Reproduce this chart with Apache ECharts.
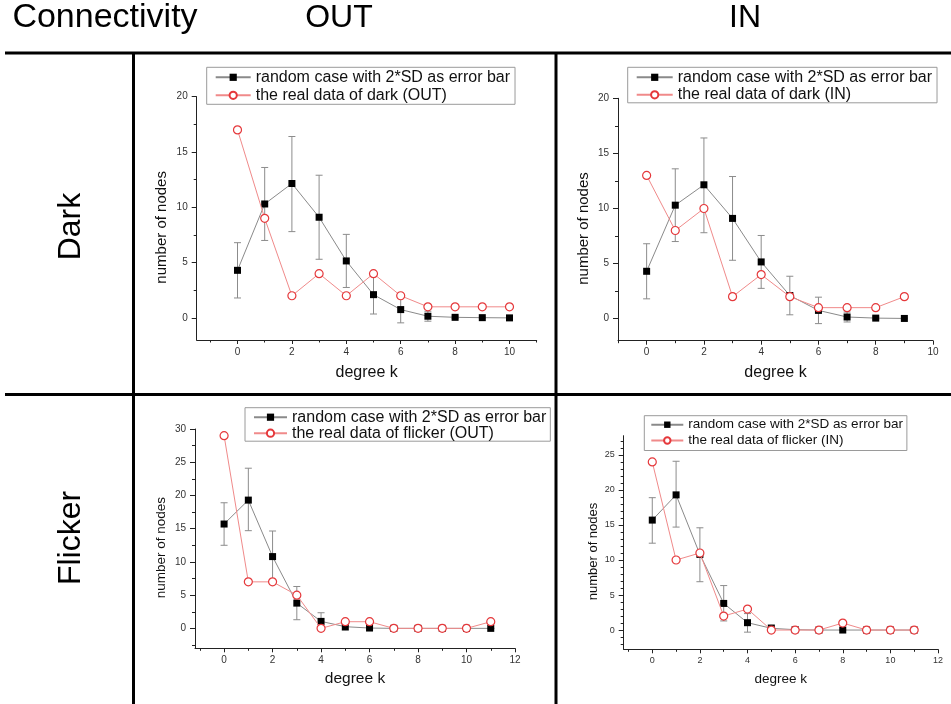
<!DOCTYPE html>
<html>
<head>
<meta charset="utf-8">
<script src="https://cdn.jsdelivr.net/npm/echarts@6/dist/echarts.min.js"></script>
<style>
html,body{margin:0;padding:0;background:#fff;}
#c{width:951px;height:704px;}
</style>
</head>
<body>
<div id="c"></div>
<script>
// ---------------- text ----------------
const cornerLabel = 'Connectivity';
const columnLabels = ['OUT', 'IN'];
const rowLabels = ['Dark', 'Flicker'];
const randomName = 'random case with 2*SD as error bar';
const realDarkOutName = 'the real data of dark (OUT)';
const realDarkInName = 'the real data of dark (IN)';
const realFlickerOutName = 'the real data of flicker (OUT)';
const realFlickerInName = 'the real data of flicker (IN)';
const xAxisName = 'degree k';
const yAxisName = 'number of nodes';

// ---------------- Dark, OUT ----------------
const degreesDarkOut = [0, 1, 2, 3, 4, 5, 6, 7, 8, 9, 10];
const randomDarkOut = [4.3, 10.3, 12.15, 9.1, 5.15, 2.1, 0.75, 0.15, 0.05, 0.02, 0.0];
const randomDarkOutLow = [1.8, 7.0, 7.8, 5.3, 2.75, 0.35, -0.45, -0.3, -0.05, -0.02, 0.0];
const randomDarkOutHigh = [6.8, 13.6, 16.4, 12.9, 7.55, 3.85, 1.95, 0.6, 0.15, 0.06, 0.0];
const realDarkOut = [17, 9, 2, 4, 2, 4, 2, 1, 1, 1, 1];

// ---------------- Dark, IN ----------------
const degreesDarkIn = [0, 1, 2, 3, 4, 5, 6, 7, 8, 9];
const randomDarkIn = [4.3, 10.3, 12.15, 9.1, 5.15, 2.1, 0.75, 0.15, 0.05, 0.02];
const randomDarkInLow = [1.8, 7.0, 7.8, 5.3, 2.75, 0.35, -0.45, -0.3, -0.05, -0.02];
const randomDarkInHigh = [6.8, 13.6, 16.4, 12.9, 7.55, 3.85, 1.95, 0.6, 0.15, 0.06];
const realDarkIn = [13, 8, 10, 2, 4, 2, 1, 1, 1, 2];

// ---------------- Flicker, OUT ----------------
const degreesFlickerOut = [0, 1, 2, 3, 4, 5, 6, 7, 8, 9, 10, 11];
const randomFlickerOut = [15.7, 19.3, 10.8, 3.8, 1.05, 0.25, 0.05, 0, 0, 0, 0, 0];
const randomFlickerOutLow = [12.5, 14.7, 6.95, 1.3, -0.25, -0.3, -0.1, 0, 0, 0, 0, 0];
const randomFlickerOutHigh = [18.9, 24.1, 14.65, 6.3, 2.35, 0.75, 0.2, 0, 0, 0, 0, 0];
const realFlickerOut = [29, 7, 7, 5, 0, 1, 1, 0, 0, 0, 0, 1];

// ---------------- Flicker, IN ----------------
const degreesFlickerIn = [0, 1, 2, 3, 4, 5, 6, 7, 8, 9, 10, 11];
const randomFlickerIn = [15.7, 19.3, 10.8, 3.8, 1.05, 0.25, 0.05, 0, 0, 0, 0, 0];
const randomFlickerInLow = [12.4, 14.7, 6.9, 1.3, -0.3, -0.2, -0.1, 0, 0, 0, 0, 0];
const randomFlickerInHigh = [18.9, 24.1, 14.6, 6.35, 2.35, 0.75, 0.2, 0, 0, 0, 0, 0];
const realFlickerIn = [24, 10, 11, 2, 3, 0, 0, 0, 1, 0, 0, 0];

// ---------------- tick labels ----------------
const xTicksTo10 = [0, 2, 4, 6, 8, 10];
const xMinorTo11 = [-1, 1, 3, 5, 7, 9, 11];
const xMinorTo9 = [-1, 1, 3, 5, 7, 9];
const xTicksTo12 = [0, 2, 4, 6, 8, 10, 12];
const xMinorTo12 = [-1, 1, 3, 5, 7, 9, 11];
const yTicksTo20 = [0, 5, 10, 15, 20];
const yMinorTo20 = [2.5, 7.5, 12.5, 17.5];
const yTicksTo30 = [0, 5, 10, 15, 20, 25, 30];
const yMinorTo30 = [-2.5, 2.5, 7.5, 12.5, 17.5, 22.5, 27.5];
const yTicksTo25 = [0, 5, 10, 15, 20, 25];
const yMinorTo25 = [-2, -1, 1, 2, 3, 4, 6, 7, 8, 9, 11, 12, 13, 14, 16, 17, 18, 19, 21, 22, 23, 24, 26, 27];

// ---------------- layout / style (not data) ----------------
const FONT = '"Liberation Sans", Arial, Helvetica, sans-serif';
const AXIS_COLOR = '#222';
const LABEL_COLOR = '#333';

const panels = [
  { grid: {left: 196.7, top: 96.7, width: 340, height: 243.3},
    xMin: -1.5, xMax: 11, yMin: -2, yMax: 20,
    xTicks: xTicksTo10, xMinor: xMinorTo11, yTicks: yTicksTo20, yMinor: yMinorTo20,
    degrees: degreesDarkOut, random: randomDarkOut, low: randomDarkOutLow, high: randomDarkOutHigh,
    real: realDarkOut, realName: realDarkOutName,
    xNameGap: 25, yNameGap: 27.5, xNameSize: 16, yNameSize: 15, labelSize: 10,
    legend: {left: 206.7, top: 67.3, padding: [2, 5, 1, 8], itemWidth: 35, itemHeight: 9, itemGap: 2, fontSize: 16} },
  { grid: {left: 618, top: 98.3, width: 315, height: 242.4},
    xMin: -1, xMax: 10, yMin: -2, yMax: 20,
    xTicks: xTicksTo10, xMinor: xMinorTo9, yTicks: yTicksTo20, yMinor: yMinorTo20,
    degrees: degreesDarkIn, random: randomDarkIn, low: randomDarkInLow, high: randomDarkInHigh,
    real: realDarkIn, realName: realDarkInName,
    xNameGap: 23.6, yNameGap: 26.8, xNameSize: 16, yNameSize: 15, labelSize: 10,
    legend: {left: 627.7, top: 67.3, padding: [2, 5, 0, 8], itemWidth: 36, itemHeight: 9, itemGap: 1.5, fontSize: 16} },
  { grid: {left: 195, top: 429, width: 320, height: 219.3},
    xMin: -1.2, xMax: 12, yMin: -3, yMax: 30,
    xTicks: xTicksTo12, xMinor: xMinorTo12, yTicks: yTicksTo30, yMinor: yMinorTo30,
    degrees: degreesFlickerOut, random: randomFlickerOut, low: randomFlickerOutLow, high: randomFlickerOutHigh,
    real: realFlickerOut, realName: realFlickerOutName,
    xNameGap: 22, yNameGap: 27, xNameSize: 15.5, yNameSize: 13.5, labelSize: 10,
    legend: {left: 245, top: 407.7, padding: [1.5, 4, 0, 8], itemWidth: 33, itemHeight: 9, itemGap: 0, fontSize: 16} },
  { grid: {left: 623.7, top: 435.7, width: 314.3, height: 213.6},
    xMin: -1.2, xMax: 12, yMin: -2.75, yMax: 27.75,
    xTicks: xTicksTo12, xMinor: xMinorTo12, yTicks: yTicksTo25, yMinor: yMinorTo25,
    degrees: degreesFlickerIn, random: randomFlickerIn, low: randomFlickerInLow, high: randomFlickerInHigh,
    real: realFlickerIn, realName: realFlickerInName,
    xNameGap: 23.3, yNameGap: 24, xNameSize: 13.5, yNameSize: 13, labelSize: 9,
    legend: {left: 644.3, top: 415.7, padding: [2, 4, 3, 6], itemWidth: 32, itemHeight: 8, itemGap: 1.8, fontSize: 13.5} }
];

const grids = [], xAxes = [], yAxes = [], series = [], legends = [];

function zip(xs, ys) { return xs.map((x, i) => [x, ys[i]]); }

panels.forEach((p, i) => {
  grids.push(Object.assign({containLabel: false}, p.grid));
  xAxes.push({
    type: 'value', gridIndex: i, min: p.xMin, max: p.xMax, position: 'bottom',
    axisLine: {show: true, onZero: false, lineStyle: {color: AXIS_COLOR, width: 1}},
    axisTick: {show: true, customValues: p.xTicks, length: 4, lineStyle: {color: AXIS_COLOR}},
    axisLabel: {customValues: p.xTicks, margin: 7, fontSize: p.labelSize, color: LABEL_COLOR, fontFamily: FONT},
    splitLine: {show: false},
    name: xAxisName, nameLocation: 'middle', nameGap: p.xNameGap,
    nameTextStyle: {fontSize: p.xNameSize, color: '#111', fontFamily: FONT}
  });
  yAxes.push({
    type: 'value', gridIndex: i, min: p.yMin, max: p.yMax, position: 'left',
    axisLine: {show: true, onZero: false, lineStyle: {color: AXIS_COLOR, width: 1}},
    axisTick: {show: true, customValues: p.yTicks, length: 5, lineStyle: {color: AXIS_COLOR}},
    axisLabel: {customValues: p.yTicks, margin: 9, fontSize: p.labelSize, color: LABEL_COLOR, fontFamily: FONT},
    splitLine: {show: false},
    name: yAxisName, nameLocation: 'middle', nameGap: p.yNameGap,
    nameTextStyle: {fontSize: p.yNameSize, color: '#111', fontFamily: FONT, padding: [0, 18, 0, 0]}
  });
  series.push({
    type: 'custom', name: 'error bar', xAxisIndex: i, yAxisIndex: i, z: 1, silent: true,
    data: p.degrees.map((x, k) => [x, p.low[k], p.high[k]]),
    encode: {x: 0, y: [1, 2]},
    renderItem: function (params, api) {
      const x = api.value(0);
      const a = api.coord([x, api.value(1)]);
      const b = api.coord([x, api.value(2)]);
      const hw = 3.5;
      const st = {stroke: '#8c8c8c', lineWidth: 1};
      return {type: 'group', children: [
        {type: 'line', shape: {x1: a[0], y1: a[1], x2: b[0], y2: b[1]}, style: st},
        {type: 'line', shape: {x1: a[0] - hw, y1: a[1], x2: a[0] + hw, y2: a[1]}, style: st},
        {type: 'line', shape: {x1: b[0] - hw, y1: b[1], x2: b[0] + hw, y2: b[1]}, style: st}
      ]};
    }
  });
  series.push({
    type: 'line', name: randomName, xAxisIndex: i, yAxisIndex: i, z: 2,
    data: zip(p.degrees, p.random),
    symbol: 'rect', symbolSize: 7, showAllSymbol: true,
    lineStyle: {color: '#8a8a8a', width: 1},
    itemStyle: {color: '#000'},
    emphasis: {disabled: true}, animation: false
  });
  series.push({
    type: 'line', name: p.realName, xAxisIndex: i, yAxisIndex: i, z: 3,
    data: zip(p.degrees, p.real),
    symbol: 'circle', symbolSize: 8, showAllSymbol: true,
    lineStyle: {color: '#f08a8a', width: 1},
    itemStyle: {color: '#fff', borderColor: '#e5383b', borderWidth: 1.2},
    emphasis: {disabled: true}, animation: false
  });
  const L = p.legend;
  legends.push({
    left: L.left, top: L.top, orient: 'vertical', padding: L.padding,
    itemWidth: L.itemWidth, itemHeight: L.itemHeight, itemGap: L.itemGap,
    borderColor: '#9a9a9a', borderWidth: 1, backgroundColor: '#fff',
    selectedMode: false,
    data: [randomName, p.realName],
    textStyle: {fontSize: L.fontSize, color: '#111', fontFamily: FONT}
  });
});

// minor tick overlays in twin grids
panels.forEach((p, i) => {
  const gi = panels.length + i;
  grids.push(Object.assign({containLabel: false}, p.grid));
  xAxes.push({
    type: 'value', gridIndex: gi, min: p.xMin, max: p.xMax, position: 'bottom',
    axisLine: {show: false, onZero: false},
    axisTick: {show: true, customValues: p.xMinor, length: 2.5, lineStyle: {color: AXIS_COLOR}},
    axisLabel: {show: false}, splitLine: {show: false}
  });
  yAxes.push({
    type: 'value', gridIndex: gi, min: p.yMin, max: p.yMax, position: 'left',
    axisLine: {show: false, onZero: false},
    axisTick: {show: true, customValues: p.yMinor, length: 3, lineStyle: {color: AXIS_COLOR}},
    axisLabel: {show: false}, splitLine: {show: false}
  });
});

const HEAD_FONT = 'normal 32px ' + FONT;
const CORNER_FONT = 'normal 34px ' + FONT;
const rule = {stroke: '#000', lineWidth: 3};
const graphic = [
  {type: 'line', shape: {x1: 5, y1: 53, x2: 951, y2: 53}, style: rule},
  {type: 'line', shape: {x1: 5, y1: 394.5, x2: 951, y2: 394.5}, style: rule},
  {type: 'line', shape: {x1: 133.5, y1: 53, x2: 133.5, y2: 704}, style: rule},
  {type: 'line', shape: {x1: 556, y1: 53, x2: 556, y2: 704}, style: rule},
  {type: 'text', x: 105, y: 18, style: {text: cornerLabel, font: CORNER_FONT, fill: '#000', textAlign: 'center', textVerticalAlign: 'middle'}},
  {type: 'text', x: 339, y: 18, style: {text: columnLabels[0], font: HEAD_FONT, fill: '#000', textAlign: 'center', textVerticalAlign: 'middle'}},
  {type: 'text', x: 745, y: 18, style: {text: columnLabels[1], font: HEAD_FONT, fill: '#000', textAlign: 'center', textVerticalAlign: 'middle'}},
  {type: 'text', x: 71, y: 226.5, rotation: Math.PI / 2, style: {text: rowLabels[0], font: HEAD_FONT, fill: '#000', textAlign: 'center', textVerticalAlign: 'middle'}},
  {type: 'text', x: 71, y: 538, rotation: Math.PI / 2, style: {text: rowLabels[1], font: HEAD_FONT, fill: '#000', textAlign: 'center', textVerticalAlign: 'middle'}}
];

const chart = echarts.init(document.getElementById('c'), null, {renderer: 'canvas'});
chart.setOption({
  animation: false,
  backgroundColor: '#fff',
  grid: grids,
  xAxis: xAxes,
  yAxis: yAxes,
  legend: legends,
  series: series,
  graphic: graphic
});
</script>
</body>
</html>
